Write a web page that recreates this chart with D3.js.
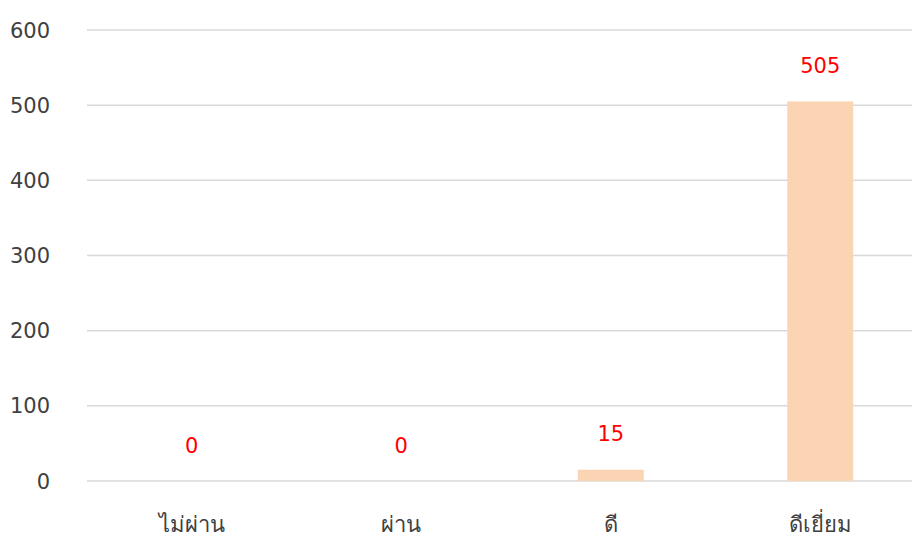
<!DOCTYPE html>
<html>
<head>
<meta charset="utf-8">
<script src="https://cdn.jsdelivr.net/npm/d3@7"></script>
<style>
  body { margin: 0; background: #fff; }
  text { font-family: Tahoma, "DejaVu Sans", "Noto Sans", sans-serif; }
</style>
</head>
<body>
<div id="chart"></div>
<script>
const categories = ["ไม่ผ่าน", "ผ่าน", "ดี", "ดีเยี่ยม"];
const values = [0, 0, 15, 505];
const yTicks = [0, 100, 200, 300, 400, 500, 600];

const width = 912, height = 538;
const margin = {top: 30, right: -13, bottom: 57, left: 87};

let svg = d3.select("#chart").append("svg")
  .attr("width", width)
  .attr("height", height);

let x = d3.scaleBand()
  .domain(categories)
  .range([margin.left, width - margin.right])
  .paddingInner(0.685)
  .paddingOuter(0.3425);

let y = d3.scaleLinear()
  .domain([0, 600])
  .range([height - margin.bottom, margin.top]);

// gridlines
svg.append("g").selectAll("line")
  .data(yTicks)
  .join("line")
  .attr("x1", margin.left)
  .attr("x2", width)
  .attr("y1", (d) => y(d))
  .attr("y2", (d) => y(d))
  .attr("stroke", "#d9d9d9")
  .attr("stroke-width", 1.5);

// y labels
svg.append("g").selectAll("text")
  .data(yTicks)
  .join("text")
  .attr("x", 50)
  .attr("y", (d) => y(d))
  .attr("dy", "0.36em")
  .attr("text-anchor", "end")
  .attr("font-size", 21)
  .attr("fill", "#404040")
  .text((d) => d);

// bars
svg.append("g").selectAll("rect")
  .data(values)
  .join("rect")
  .attr("x", (d, i) => x(categories[i]))
  .attr("width", x.bandwidth())
  .attr("y", (d) => y(d))
  .attr("height", (d) => y(0) - y(d))
  .attr("fill", "#fbd5b3");

// data labels
svg.append("g").selectAll("text")
  .data(values)
  .join("text")
  .attr("x", (d, i) => x(categories[i]) + x.bandwidth() / 2)
  .attr("y", (d) => y(d) - 36)
  .attr("dy", "0.36em")
  .attr("text-anchor", "middle")
  .attr("font-size", 21)
  .attr("fill", "#ff0000")
  .text((d) => d);

// x labels
svg.append("g").selectAll("text")
  .data(categories)
  .join("text")
  .attr("x", (d) => x(d) + x.bandwidth() / 2)
  .attr("y", 524)
  .attr("dy", "0.36em")
  .attr("text-anchor", "middle")
  .attr("font-size", 22)
  .attr("fill", "#404040")
  .text((d) => d);
</script>
</body>
</html>
